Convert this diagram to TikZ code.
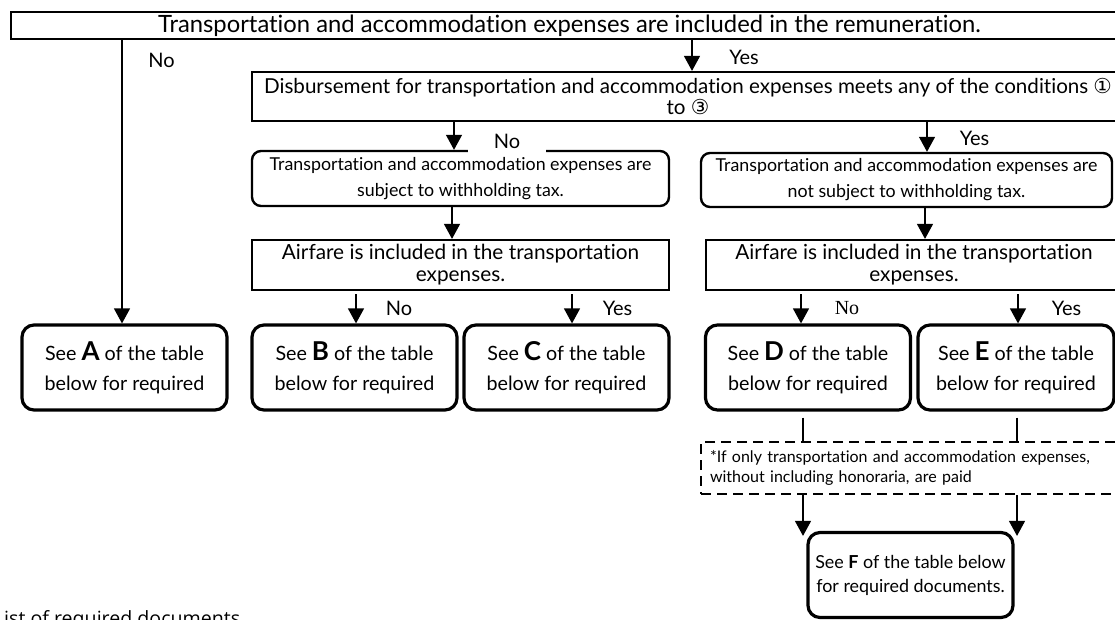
\documentclass[tikz,border=0pt]{standalone}
\usepackage{fontspec}
\setmainfont{Lato}[Ligatures={NoCommon,NoRequired,NoContextual}]
\newfontfamily\serifNo{Liberation Serif}
\newfontfamily\symf{DejaVu Sans}
\newfontfamily\listf{Open Sans}
\newcommand{\myletter}[1]{{\fontsize{26}{30}\selectfont\bfseries #1}}
\usetikzlibrary{arrows.meta}
\begin{document}
\begin{tikzpicture}[x=1pt,y=-1pt,
  box/.style={draw, line width=2.2pt, inner sep=0pt, align=center},
  sbox/.style={box, rounded corners=9pt, line width=2.4pt, font=\fontsize{17.8}{26}\selectfont},
  abox/.style={box, minimum height=50pt, font=\fontsize{20.8}{22}\selectfont},
  rbox/.style={box, rounded corners=12pt, line width=3.2pt, minimum width=205pt, minimum height=85pt, font=\fontsize{19.7}{30}\selectfont},
  arr/.style={line width=1.3pt, -{Triangle[width=16pt,length=15pt]}},
  conn/.style={line width=1.3pt},
  lbl/.style={inner sep=0pt, font=\fontsize{20}{24}\selectfont},
  notebox/.style={draw, line width=2.2pt, dash pattern=on 10pt off 6pt, inner xsep=9pt, inner ysep=0pt, text width=403pt, align=left, minimum height=52pt, font=\fontsize{16}{20}\selectfont}]
\useasboundingbox (0,0) rectangle (1115,619);
\clip (0,0) rectangle (1115,619);
\fill[white] (0,0) rectangle (1115,619);

% x positions of connectors
\coordinate (xA) at (122,0);
\coordinate (xY1) at (692,0);
\coordinate (xN2) at (454,0);
\coordinate (xY2) at (927,0);
\coordinate (xL3) at (452,0);
\coordinate (xR3) at (925,0);
\coordinate (xB) at (356,0);
\coordinate (xC) at (572,0);
\coordinate (xD) at (801,0);
\coordinate (xE) at (1018,0);
\coordinate (xD2) at (803,0);
\coordinate (xE2) at (1017,0);

% boxes
\node[box, minimum width=1117pt, minimum height=27pt, font=\fontsize{23.8}{26}\selectfont] (top) at (569.5,25.5)
  {Transportation and accommodation expenses are included in the remuneration.};
\node[box, minimum width=872pt, minimum height=49pt, font=\fontsize{20.6}{21}\selectfont] (disb) at (688,96.5)
  {Disbursement for transportation and accommodation expenses meets any of the conditions {\symf ①}\\to {\symf ③}};
\node[sbox, minimum width=417pt, minimum height=55pt] (subjL) at (460.5,178.5)
  {Transportation and accommodation expenses are\\subject to withholding tax.};
\node[sbox, minimum width=411pt, minimum height=54pt] (subjR) at (906.5,180)
  {Transportation and accommodation expenses are\\not subject to withholding tax.};
\node[abox, minimum width=417pt] (airL) at (460.5,265)
  {Airfare is included in the transportation\\expenses.};
\node[abox, minimum width=416pt] (airR) at (914,265)
  {Airfare is included in the transportation\\expenses.};
\node[rbox] (A) at (124.5,367.5) {See \myletter{A} of the table\\below for required};
\node[rbox] (B) at (354.5,367.5) {See \myletter{B} of the table\\below for required};
\node[rbox] (C) at (566.5,367.5) {See \myletter{C} of the table\\below for required};
\node[rbox] (D) at (808,367.5) {See \myletter{D} of the table\\below for required};
\node[rbox, minimum width=196pt] (E) at (1016,367.5) {See \myletter{E} of the table\\below for required};
\node[notebox] (note) at (911.5,468)
  {\makebox[403pt][s]{*If only transportation and accommodation expenses,}\\without including honoraria, are paid};
\node[rbox, minimum height=85pt, font=\fontsize{17.9}{24}\selectfont] (F) at (910.5,575)
  {See \textbf{F} of the table below\\for required documents.};

% connectors
\draw[arr] (top.south -| xA) -- (A.north -| xA);
\node[lbl] (lNo1) at (161.5,60) {No};
\draw[arr] (top.south -| xY1) -- (disb.north -| xY1);
\node[lbl] (lYes1) at (744,57) {Yes};
\draw[arr] (disb.south -| xN2) -- (subjL.north -| xN2);
\node[lbl, fill=white, minimum width=78pt, minimum height=24pt] (lNo2) at (507,141) {No};
\draw[arr] (disb.south -| xY2) -- (subjR.north -| xY2);
\node[lbl] (lYes2) at (974.5,138) {Yes};
\draw[arr] (subjL.south -| xL3) -- (airL.north -| xL3);
\draw[arr] (subjR.south -| xR3) -- (airR.north -| xR3);
\draw[arr, shorten <=3pt] (airL.south -| xB) -- (B.north -| xB);
\node[lbl] (lNo3) at (399,308) {No};
\draw[arr, shorten <=3pt] (airL.south -| xC) -- (C.north -| xC);
\node[lbl] (lYes3) at (617.5,308) {Yes};
\draw[arr, shorten <=3pt] (airR.south -| xD) -- (D.north -| xD);
\node[lbl, font=\serifNo\fontsize{20}{24}\selectfont] (lNo4) at (847,308) {No};
\draw[arr, shorten <=3pt] (airR.south -| xE) -- (E.north -| xE);
\node[lbl] (lYes4) at (1066.5,308) {Yes};
\draw[conn, shorten <=6pt] (D.south -| xD2) -- (note.north -| xD2);
\draw[conn, shorten <=6pt] (E.south -| xE2) -- (note.north -| xE2);
\draw[arr] (note.south -| xD2) -- ([yshift=-5pt]F.north -| xD2);
\draw[arr] (note.south -| xE2) -- ([yshift=-5pt]F.north -| xE2);

\node[anchor=base west, inner sep=0pt, font=\listf\fontsize{19.6}{20}\selectfont] (list) at (4,625) {ist of required documents};
\end{tikzpicture}
\end{document}
